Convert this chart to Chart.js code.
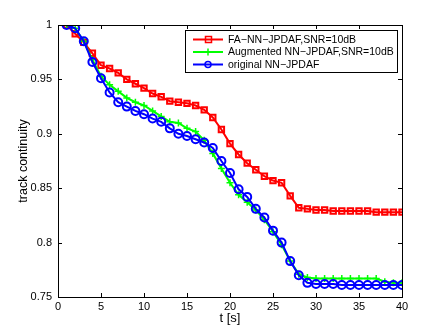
<!DOCTYPE html>
<html>
<head>
<meta charset="utf-8">
<script src="https://cdn.jsdelivr.net/npm/chart.js@4"></script>
<style>
  html, body { margin: 0; padding: 0; background: #fff; }
  #wrap { width: 443px; height: 333px; }
</style>
</head>
<body>
<div id="wrap"><canvas id="grafico" width="443" height="333"></canvas></div>
<script>
// tiempo [s]
const tiempos = [1,2,3,4,5,6,7,8,9,10,11,12,13,14,15,16,17,18,19,20,
  21,22,23,24,25,26,27,28,29,30,31,32,33,34,35,36,37,38,39,40];

const faNN = [1.0,0.992,0.984,0.974,0.963,0.960,0.956,0.950,0.946,0.942,
  0.937,0.934,0.930,0.929,0.928,0.926,0.922,0.915,0.904,0.891,
  0.881,0.873,0.867,0.861,0.857,0.855,0.843,0.832,0.831,0.830,
  0.830,0.829,0.829,0.829,0.829,0.829,0.828,0.828,0.828,0.828];

const augmentedNN = [1.0,0.997,0.985,0.968,0.953,0.945,0.939,0.933,0.929,0.926,
  0.921,0.916,0.911,0.910,0.905,0.902,0.894,0.882,0.868,0.855,
  0.844,0.837,0.830,0.821,0.810,0.798,0.783,0.771,0.768,0.767,
  0.767,0.767,0.767,0.767,0.767,0.767,0.767,0.764,0.763,0.763];

const originalNN = [1.0,0.997,0.985,0.966,0.951,0.938,0.929,0.925,0.921,0.918,
  0.914,0.911,0.905,0.900,0.898,0.895,0.892,0.887,0.875,0.864,
  0.849,0.842,0.831,0.823,0.811,0.800,0.783,0.770,0.763,0.762,
  0.762,0.762,0.761,0.761,0.761,0.761,0.761,0.761,0.761,0.761];

const etiquetas = ['FA\u2212NN\u2212JPDAF,SNR=10dB', 'Augmented NN\u2212JPDAF,SNR=10dB', 'original NN\u2212JPDAF'];
const colores = ['#ff0000', '#00ff00', '#0000ff'];

const yTicks = [0.75, 0.8, 0.85, 0.9, 0.95, 1];

function puntos(valores) {
  return valores.map((v, i) => ({ x: tiempos[i], y: v }));
}

const fuente = '"Liberation Sans", Arial, sans-serif';

// ticks hacia adentro y caja estilo matlab
const cajaPlugin = {
  id: 'caja',
  afterDatasetsDraw(chart) {
    const { ctx, chartArea: a, scales } = chart;
    ctx.save();
    ctx.strokeStyle = '#000';
    ctx.lineWidth = 1;
    ctx.beginPath();
    for (let t = 0; t <= 40; t += 5) {
      const x = Math.round(scales.x.getPixelForValue(t)) + 0.5;
      ctx.moveTo(x, a.bottom); ctx.lineTo(x, a.bottom - 4);
      ctx.moveTo(x, a.top); ctx.lineTo(x, a.top + 4);
    }
    yTicks.forEach(t => {
      const y = Math.round(scales.y.getPixelForValue(t)) + 0.5;
      ctx.moveTo(a.left, y); ctx.lineTo(a.left + 4, y);
      ctx.moveTo(a.right, y); ctx.lineTo(a.right - 4, y);
    });
    ctx.stroke();
    ctx.strokeRect(Math.round(a.left) + 0.5, Math.round(a.top) + 0.5,
      Math.round(a.right - a.left), Math.round(a.bottom - a.top));

    // leyenda
    const lx = 185, ly = 30, lw = 212, lh = 42;
    ctx.fillStyle = '#fff';
    ctx.fillRect(lx, ly, lw, lh);
    ctx.strokeRect(lx + 0.5, ly + 0.5, lw, lh);
    ctx.font = '10.5px ' + fuente;
    ctx.textBaseline = 'middle';
    etiquetas.forEach((txt, i) => {
      const y = ly + 9.5 + i * 12.5;
      ctx.strokeStyle = colores[i];
      ctx.lineWidth = 2;
      ctx.beginPath();
      ctx.moveTo(193, y); ctx.lineTo(223, y);
      ctx.stroke();
      ctx.lineWidth = 1.5;
      ctx.beginPath();
      if (i === 0) {
        ctx.rect(205.5, y - 3, 6, 6);
      } else if (i === 1) {
        ctx.moveTo(208, y - 3.5); ctx.lineTo(208, y + 3.5);
      } else {
        ctx.arc(208, y, 3, 0, Math.PI * 2);
      }
      ctx.stroke();
      ctx.fillStyle = '#000';
      ctx.fillText(txt, 228, y + 0.5);
    });
    ctx.restore();
  }
};

const ctx = document.getElementById('grafico').getContext('2d');
new Chart(ctx, {
  type: 'line',
  data: {
    datasets: [
      {
        label: etiquetas[0], data: puntos(faNN), borderColor: colores[0],
        backgroundColor: 'rgba(0,0,0,0)', borderWidth: 2, pointStyle: 'rect',
        pointRadius: 3.8, pointBorderWidth: 2, pointBorderColor: colores[0], order: 2
      },
      {
        label: etiquetas[1], data: puntos(augmentedNN), borderColor: colores[1],
        backgroundColor: 'rgba(0,0,0,0)', borderWidth: 2, pointStyle: 'cross',
        pointRadius: 3.5, pointBorderWidth: 1.5, pointBorderColor: colores[1], order: 1
      },
      {
        label: etiquetas[2], data: puntos(originalNN), borderColor: colores[2],
        backgroundColor: 'rgba(0,0,0,0)', borderWidth: 2, pointStyle: 'circle',
        pointRadius: 4, pointBorderWidth: 2, pointBorderColor: colores[2], order: 0
      }
    ]
  },
  options: {
    responsive: false,
    animation: false,
    layout: { padding: { top: 25, right: 41, left: 0, bottom: 0 } },
    plugins: { legend: { display: false }, tooltip: { enabled: false } },
    elements: { line: { tension: 0 } },
    scales: {
      x: {
        type: 'linear', min: 0, max: 40,
        afterFit: s => { s.height = 36; },
        grid: { display: false, drawTicks: false },
        border: { display: false },
        ticks: { stepSize: 5, color: '#000', font: { family: fuente, size: 11 }, padding: 3, maxRotation: 0 },
        title: { display: true, text: 't [s]', color: '#000', font: { family: fuente, size: 13 }, padding: { top: 0, bottom: 7 } }
      },
      y: {
        min: 0.75, max: 1,
        afterFit: s => { s.width = 58; },
        afterBuildTicks: s => { s.ticks = yTicks.map(v => ({ value: v })); },
        grid: { display: false, drawTicks: false },
        border: { display: false },
        ticks: { color: '#000', font: { family: fuente, size: 11 }, padding: 6,
          callback: v => String(+v.toFixed(2)) },
        title: { display: true, text: 'track continuity', color: '#000', font: { family: fuente, size: 12.5 }, padding: { top: 16, bottom: 0 } }
      }
    }
  },
  plugins: [cajaPlugin]
});
</script>
</body>
</html>
